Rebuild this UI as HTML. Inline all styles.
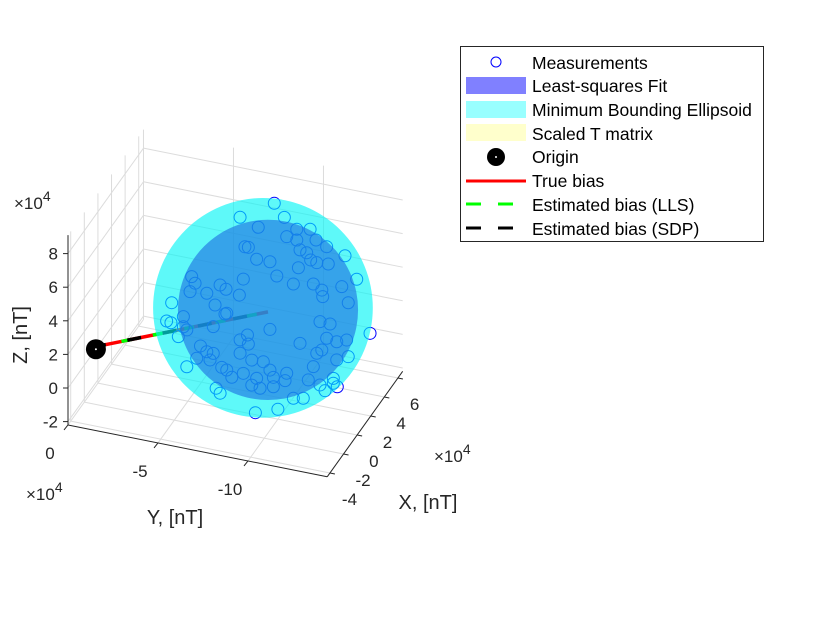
<!DOCTYPE html>
<html><head><meta charset="utf-8">
<style>
html,body{margin:0;padding:0;background:#fff;}
svg{display:block;font-family:"Liberation Sans",Arial,sans-serif;}
</style></head>
<body>
<svg id="chart" width="840" height="630" viewBox="0 0 840 630" xmlns="http://www.w3.org/2000/svg">
<rect width="840" height="630" fill="#fff"/>
<g id="grid"></g>
<g id="axes"></g>
<g id="bias"></g>
<g id="pts"></g>
<g id="sph"></g>
<g id="labels">
  <text x="0" y="0" font-size="20" fill="#262626" text-anchor="middle" transform="translate(27,335) rotate(-90)">Z, [nT]</text>
  <text x="175" y="524" font-size="20" fill="#262626" text-anchor="middle">Y, [nT]</text>
  <text x="428" y="509" font-size="20" fill="#262626" text-anchor="middle">X, [nT]</text>
  <text x="14" y="209" font-size="17" fill="#262626">×10<tspan dy="-8" font-size="14">4</tspan></text>
  <text x="26" y="500" font-size="17" fill="#262626">×10<tspan dy="-8" font-size="14">4</tspan></text>
  <text x="434" y="462" font-size="17" fill="#262626">×10<tspan dy="-8" font-size="14">4</tspan></text>
</g>
<g id="legend">
  <rect x="460.5" y="46.5" width="303" height="195" fill="#fff" stroke="#262626" stroke-width="1"/>
  <circle cx="496" cy="62" r="5" fill="none" stroke="#0000ff" stroke-width="1"/>
  <text x="532" y="69" font-size="17.5" fill="#000">Measurements</text>
  <rect x="466" y="77" width="60" height="17" fill="#8080ff"/>
  <text x="532" y="92" font-size="17.5" fill="#000">Least-squares Fit</text>
  <rect x="466" y="101" width="60" height="17" fill="#99ffff"/>
  <text x="532" y="116" font-size="17.5" fill="#000">Minimum Bounding Ellipsoid</text>
  <rect x="466" y="124" width="60" height="17" fill="#ffffcc"/>
  <text x="532" y="140" font-size="17.5" fill="#000">Scaled T matrix</text>
  <circle cx="496" cy="157" r="9" fill="#000"/>
  <circle cx="496" cy="157" r="1" fill="#fff"/>
  <text x="532" y="163" font-size="17.5" fill="#000">Origin</text>
  <line x1="466" y1="181" x2="526" y2="181" stroke="#ff0000" stroke-width="3"/>
  <text x="532" y="187" font-size="17.5" fill="#000">True bias</text>
  <line x1="466" y1="204" x2="526" y2="204" stroke="#00ff00" stroke-width="3" stroke-dasharray="15 17"/>
  <text x="532" y="211" font-size="17.5" fill="#000">Estimated bias (LLS)</text>
  <line x1="466" y1="228" x2="526" y2="228" stroke="#000" stroke-width="3" stroke-dasharray="15 17"/>
  <text x="532" y="235" font-size="17.5" fill="#000">Estimated bias (SDP)</text>
</g>
</svg>
<script>
// ---- data (units of 1e4 nT) ----
const xTicks = [-4, -2, 0, 2, 4, 6];
const yTicks = [0, -5, -10];
const zTicks = [-2, 0, 2, 4, 6, 8];
const xLim = [-4.4, 6.7];
const yLim = [-14.4, 0];
const zLim = [-2.2, 9.1];
// measurements (projected onto X = 1 plane): Y and Z
const measY = [-9.42,-7.52,-9.98,-8.53,-11.41,-10.67,-10.11,-11.74,-12.33,-7.79,-7.98,-10.67,-10.85,-11.22,-11.44,-11.78,-12.42,-13.35,-8.44,-9.18,-10.76,-9.56,-10.48,-11.59,-12.06,-12.11,-13.17,-14.0,-13.53,-4.83,-5.02,-6.41,-6.74,-5.67,-4.74,-7.70,-7.48,-6.13,-6.68,-3.72,-3.44,-3.68,-4.37,-4.09,-4.56,-9.18,-7.93,-7.52,-7.98,-11.96,-12.52,-12.89,-13.44,-12.33,-14.74,-12.06,-12.89,-5.32,-5.67,-6.03,-5.85,-6.50,-7.06,-7.52,-7.70,-8.44,-9.18,-9.37,-10.11,-6.78,-4.56,-6.19,-6.41,-8.17,-8.63,-9.37,-10.02,-10.48,-11.03,-11.31,-11.96,-12.24,-12.70,-12.92,-12.70,-8.37,-9.62,-5.11,-11.78,-11.59,-13.53,-10.85,-6.78,-6.03,-4.37,-8.17,-8.81];
const measZ = [9.96,8.72,9.24,8.34,8.84,8.68,8.12,8.27,8.0,7.02,7.03,8.04,7.49,7.40,7.02,6.93,6.99,7.68,6.42,6.43,6.41,5.66,5.38,5.62,5.36,4.98,5.80,6.42,4.92,4.61,4.26,4.45,4.27,3.80,3.70,5.08,4.08,3.20,2.78,2.82,1.67,1.62,2.13,0.88,1.38,2.40,1.80,1.42,1.27,3.46,3.44,2.46,2.68,2.55,3.36,1.79,1.38,0.59,0.32,0.30,-0.13,-0.43,-0.90,0.63,-0.53,-0.67,-0.02,-0.41,-0.01,-0.53,-0.81,-1.74,-1.99,-1.13,-1.22,-0.97,-0.47,-1.42,-1.30,-0.15,-0.31,-0.59,-0.05,-0.21,0.24,-2.73,-2.26,-0.19,1.54,0.70,1.71,1.93,2.85,1.89,1.53,0.36,0.40];
const measX = 1;
const originPt = [0, 0, 0];
const trueBias = [1, -9.07, 3.42];
const llsBias = [1, -9.07, 3.42];
const sdpBias = [1, -9.07, 3.42];
const mbeCenter = [1, -8.79, 3.6];
const mbeRadius = 6.5;
const llsCenter = [1, -9.07, 3.54];
const llsRadius = 5.33;

// ---- projection ----
function px(X,Y,Z){ return 68 + (X - xLim[0]) * 6.8 - (Y - yLim[1]) * 18; }
function py(X,Y,Z){ return 388 - Z * 16.8 - (X - xLim[0]) * 9.5 - (Y - yLim[1]) * 3.6; }
const NS = "http://www.w3.org/2000/svg";
function mk(tag, attrs, parent){ const e=document.createElementNS(NS,tag); for(const k in attrs) e.setAttribute(k,attrs[k]); parent.appendChild(e); return e; }
function seg(p,q,parent,style){ return mk('line',Object.assign({x1:px(...p),y1:py(...p),x2:px(...q),y2:py(...q)},style),parent); }

const grid=document.getElementById('grid'), axes=document.getElementById('axes');
const gs={stroke:'#dcdcdc','stroke-width':1};
xTicks.forEach(x=>{ const l=seg([x,yLim[1],zLim[0]],[x,yLim[0],zLim[0]],grid,gs);

 });
yTicks.forEach(y=>{ const l=seg([xLim[0],y,zLim[0]],[xLim[1],y,zLim[0]],grid,gs);

 });
xTicks.forEach(x=>{ const l=seg([x,yLim[1],zLim[0]],[x,yLim[1],zLim[1]],grid,gs);

 });
zTicks.forEach(z=>{ const l=seg([xLim[0],yLim[1],z],[xLim[1],yLim[1],z],grid,gs);

 });
yTicks.forEach(y=>{ const l=seg([xLim[1],y,zLim[0]],[xLim[1],y,zLim[1]],grid,gs);

 });
zTicks.forEach(z=>{ const l=seg([xLim[1],yLim[1],z],[xLim[1],yLim[0],z],grid,gs);

 });

const as={stroke:'#262626','stroke-width':1};
let a=seg([xLim[0],yLim[1],zLim[0]],[xLim[0],yLim[1],zLim[1]],axes,as);


a=seg([xLim[0],yLim[1],zLim[0]],[xLim[0],yLim[0],zLim[0]],axes,as);


a=seg([xLim[0],yLim[0],zLim[0]],[xLim[1],yLim[0],zLim[0]],axes,as);



zTicks.forEach(z=>{
  const x0=px(xLim[0],yLim[1],z), y0=py(xLim[0],yLim[1],z);
  const t=mk('line',{x1:x0,y1:y0,x2:x0-5,y2:y0,stroke:'#262626'},axes);
  
  
  const tx=mk('text',{x:x0-10,y:y0+6,'font-size':17,fill:'#262626','text-anchor':'end'},axes);
  tx.textContent=String(z);
  
  
});
yTicks.forEach(y=>{
  const x0=px(xLim[0],y,zLim[0]), y0=py(xLim[0],y,zLim[0]);
  const t=mk('line',{x1:x0,y1:y0,x2:x0-4,y2:y0+5,stroke:'#262626'},axes);
  
  
  const tx=mk('text',{x:x0-18,y:y0+34,'font-size':17,fill:'#262626','text-anchor':'middle'},axes);
  tx.textContent=String(y);
  
  
});
xTicks.forEach(x=>{
  const x0=px(x,yLim[0],zLim[0]), y0=py(x,yLim[0],zLim[0]);
  const t=mk('line',{x1:x0,y1:y0,x2:x0+5,y2:y0+1,stroke:'#262626'},axes);
  
  
  const tx=mk('text',{x:x0+12,y:y0+32,'font-size':17,fill:'#262626','text-anchor':'start'},axes);
  tx.textContent=String(x);
  
  
});

const bias=document.getElementById('bias');
let b=seg(originPt,trueBias,bias,{stroke:'#ff0000','stroke-width':3.5});


b=seg(originPt,llsBias,bias,{stroke:'#00ff00','stroke-width':3.5,'stroke-dasharray':'10 22','stroke-dashoffset':'-24'});


b=seg(originPt,sdpBias,bias,{stroke:'#000','stroke-width':3.5,'stroke-dasharray':'14 22','stroke-dashoffset':'-30'});


let o=mk('circle',{cx:px(...originPt)-2,cy:py(...originPt)+3,r:10,fill:'#000'},bias);



const pts=document.getElementById('pts');
measY.forEach((y,i)=>{
  const c=mk('circle',{cx:px(measX,y,measZ[i]),cy:py(measX,y,measZ[i]),r:6,fill:'none',stroke:'#0000ff','stroke-width':1},pts);
  
  
});

const sph=document.getElementById('sph');
const s1=mk('circle',{cx:px(...mbeCenter),cy:py(...mbeCenter),r:mbeRadius*16.9,fill:'rgb(0,245,245)','fill-opacity':0.63},sph);


const s2=mk('circle',{cx:px(...llsCenter),cy:py(...llsCenter),r:llsRadius*16.9,fill:'rgb(30,110,225)','fill-opacity':0.62},sph);


const od=mk('circle',{cx:px(...originPt)-2,cy:py(...originPt)+3,r:1,fill:'#fff'},bias);


</script>
</body></html>
